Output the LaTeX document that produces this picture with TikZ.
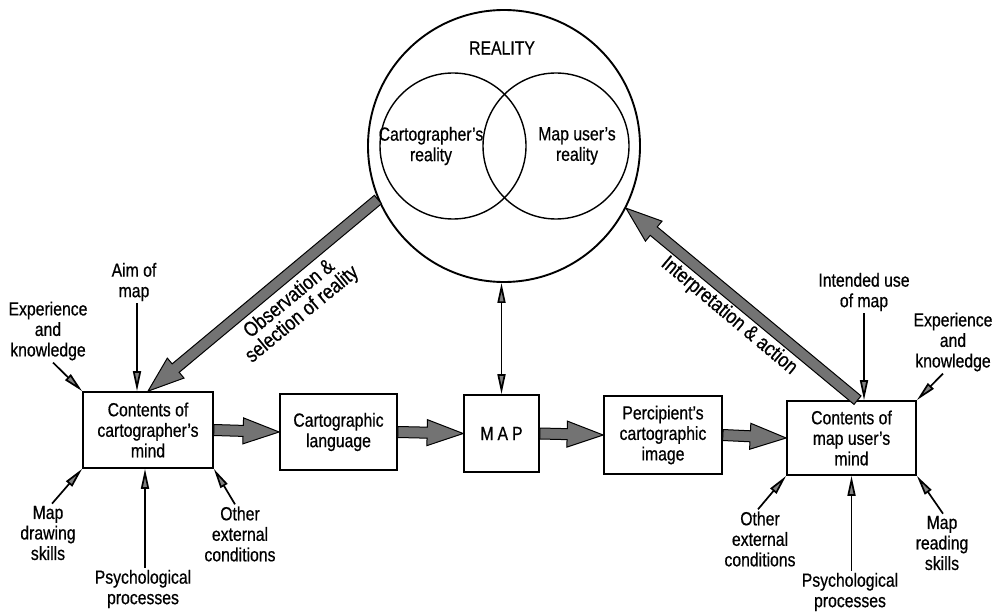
\documentclass[tikz,border=0pt]{standalone}
\usepackage{fontspec}
\setmainfont{Liberation Sans}[FakeStretch=0.83,FakeBold=0.6]
\usetikzlibrary{calc,arrows.meta}
\newcommand\txtfont{\fontsize{19}{20.5}\selectfont}
\newcommand\diagfont{\fontsize{21}{20}\selectfont}
\newcommand\FatArrow[2]{%
  \coordinate (fabase) at ($(#2)!36pt!(#1)$);
  \filldraw[fatstyle] ($(#1)!5.5pt!90:(#2)$) -- ($(fabase)!5.5pt!-90:(#1)$) -- ($(fabase)!13pt!-90:(#1)$) -- (#2) -- ($(fabase)!13pt!90:(#1)$) -- ($(fabase)!5.5pt!90:(#1)$) -- ($(#1)!5.5pt!-90:(#2)$) -- cycle;}
\begin{document}
\begin{tikzpicture}[x=1pt,y=-1pt,
  box/.style={draw, line width=1.7pt, align=center, inner sep=0pt, font=\txtfont},
  lbl/.style={align=center, inner sep=2pt, font=\txtfont},
  thinarrow/.style={line width=1.7pt, -{Triangle[length=20pt,width=8pt,fill=black!50]}},
  twoway/.style={line width=1.7pt, {Triangle[length=20pt,width=8pt,fill=black!50]}-{Triangle[length=20pt,width=8pt,fill=black!50]}},
  fatstyle/.style={fill=black!55, draw=black, line width=1pt, line join=miter},
  ring/.style={draw, circle, line width=1.4pt, inner sep=0pt}]
\useasboundingbox (0,0) rectangle (995,612);

% reality circles
\node[ring, minimum size=272pt, line width=1.9pt] (reality) at (504,146) {};
\node[ring, minimum size=146pt] (creal) at (453,146) {};
\node[ring, minimum size=146pt] (ureal) at (556,146) {};
\node[lbl] (realtitle) at (502,48) {REALITY};
\node[lbl] (ctext) at (431,146) {Cartographer’s\\reality};
\node[lbl] (utext) at (577,146) {Map user’s\\reality};

% main row
\node[box, minimum width=130pt, minimum height=76pt] (lbox) at (148,430) {Contents of\\cartographer’s\\mind};
\node[box, minimum width=117pt, minimum height=76pt] (carto) at (338.5,432) {Cartographic\\language};
\node[box, minimum width=75pt, minimum height=77pt] (map) at (501.5,433.5) {M\hspace{4pt}A\hspace{4pt}P};
\node[box, minimum width=118pt, minimum height=78pt] (percip) at (663,435) {Percipient’s\\cartographic\\image};
\node[box, minimum width=129pt, minimum height=74pt] (rbox) at (851.5,438) {Contents of\\map user’s\\mind};

\FatArrow{lbox.east}{carto.west}
\FatArrow{carto.east}{map.west}
\FatArrow{map.east}{percip.west}
\FatArrow{percip.east}{rbox.west}
\FatArrow{reality.203}{lbox.north}
\coordinate (rtail) at ([xshift=6pt]rbox.north);
\FatArrow{rtail}{reality.333}

\draw[twoway] (map.north) -- (map.north |- reality.south);

% diagonal labels
\node[font=\diagfont, align=center, rotate=39.5, inner sep=0pt] (obs) at (296,307) {Observation \&\\selection of reality};
\node[font=\diagfont, rotate=-40, inner sep=0pt] (interp) at (729,316) {Interpretation \& action};

% left influences
\node[lbl] (laim) at (134,282) {Aim of\\map};
\node[lbl] (lexp) at (48,331) {Experience\\and\\knowledge};
\node[lbl] (lskills) at (48,533) {Map\\drawing\\skills};
\node[lbl] (lpsych) at (143,589) {Psychological\\processes};
\node[lbl] (lother) at (240,534) {Other\\external\\conditions};
\draw[thinarrow] ([xshift=3pt]laim.south) -- ([xshift=-11pt]lbox.north);
\draw[thinarrow] ([xshift=5pt]lexp.south) -- (lbox.north west);
\draw[thinarrow] ([xshift=4pt]lskills.north) -- (lbox.south west);
\coordinate (lpt) at ([xshift=-3pt]lbox.south);
\draw[thinarrow] (lpt |- lpsych.north) -- (lpt);
\draw[thinarrow] ([xshift=-5pt]lother.north) -- (lbox.south east);

% right influences
\node[lbl] (rint) at (864,292) {Intended use\\of map};
\node[lbl] (rexp) at (953,342) {Experience\\and\\knowledge};
\node[lbl] (rother) at (760,539) {Other\\external\\conditions};
\node[lbl] (rpsych) at (850,592) {Psychological\\processes};
\node[lbl] (rskills) at (942,543) {Map\\reading\\skills};
\draw[thinarrow] (rint.south) -- (rint.south |- rbox.north);
\draw[thinarrow] ([xshift=-10pt]rexp.south) -- (rbox.north east);
\draw[thinarrow] ([xshift=-2pt]rother.north) -- (rbox.south west);
\draw[thinarrow] (rbox.south |- rpsych.north) -- (rbox.south);
\draw[thinarrow] ([xshift=1pt]rskills.north) -- (rbox.south east);
\end{tikzpicture}
\end{document}
